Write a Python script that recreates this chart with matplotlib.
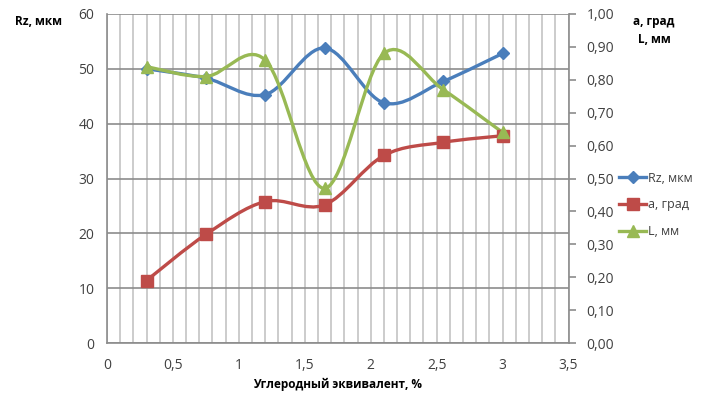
import numpy as np
from matplotlib import pyplot as plt
from matplotlib.path import Path
from matplotlib.patches import PathPatch
from matplotlib.lines import Line2D

plt.rcParams['font.family'] = ['Open Sans', 'DejaVu Sans']

x_vals = [0.3, 0.75, 1.2, 1.65, 2.1, 2.55, 3.0]
rz_vals = [50.0, 48.3, 45.3, 53.8, 43.8, 47.7, 52.8]
a_vals = [0.19, 0.33, 0.43, 0.42, 0.57, 0.61, 0.63]
l_vals = [0.84, 0.81, 0.86, 0.47, 0.88, 0.77, 0.64]

x_ticks = [0, 0.5, 1, 1.5, 2, 2.5, 3, 3.5]
left_ticks = [0, 10, 20, 30, 40, 50, 60]
right_ticks = [0.0, 0.1, 0.2, 0.3, 0.4, 0.5, 0.6, 0.7, 0.8, 0.9, 1.0]

c_rz = '#4a7ebb'
c_a = '#be4b48'
c_l = '#98b954'


def smooth_path(xs, ys):
    # excel-like smoothed line: cubic bezier through the points
    pts = np.column_stack([xs, ys])
    n = len(pts)
    verts = [pts[0]]
    codes = [Path.MOVETO]
    for i in range(n - 1):
        p0 = pts[max(i - 1, 0)]
        p1 = pts[i]
        p2 = pts[i + 1]
        p3 = pts[min(i + 2, n - 1)]
        c1 = p1 + (p2 - p0) / 6.0
        c2 = p2 - (p3 - p1) / 6.0
        verts += [c1, c2, p2]
        codes += [Path.CURVE4] * 3
    return Path(verts, codes)


fig = plt.figure(figsize=(7.01, 3.94), dpi=100)
ax = fig.add_axes([0.1526, 0.1294, 0.6584, 0.8351])
ax2 = ax.twinx()

ax.set_xlim(0, 3.5)
ax.set_ylim(0, 60)
ax2.set_ylim(0, 1)

ax.set_xticks(x_ticks)
ax.set_xticklabels([('%g' % t).replace('.', ',') for t in x_ticks])
ax.set_xticks(np.arange(0, 3.51, 0.1), minor=True)
ax.set_yticks(left_ticks)
ax2.set_yticks(right_ticks)
ax2.set_yticklabels([('%.2f' % t).replace('.', ',') for t in right_ticks])

ax.grid(True, which='both', axis='x', color='#c4c4c4', lw=1.2)
ax.grid(True, which='major', axis='y', color='#8c8c8c', lw=1.2)
ax.set_axisbelow(True)

for a in (ax, ax2):
    for s in a.spines.values():
        s.set_visible(False)
ax.spines['left'].set_visible(True)
ax.spines['bottom'].set_visible(True)
ax2.spines['right'].set_visible(True)
for s in (ax.spines['left'], ax.spines['bottom'], ax2.spines['right']):
    s.set_color('#8c8c8c')
    s.set_linewidth(1.2)

ax.tick_params(axis='both', which='both', length=0, labelsize=10, colors='#404040', pad=9)
ax.tick_params(axis='x', pad=11)
ax2.tick_params(axis='y', length=5, width=1.2, color='#8c8c8c', labelsize=10,
                labelcolor='#404040', pad=8)

lw = 2.4
ax.add_patch(PathPatch(smooth_path(x_vals, rz_vals), fc='none', ec=c_rz, lw=lw, zorder=3))
ax.plot(x_vals, rz_vals, ls='none', marker='D', ms=6, color=c_rz, zorder=4)
ax2.add_patch(PathPatch(smooth_path(x_vals, a_vals), fc='none', ec=c_a, lw=lw, zorder=3))
ax2.plot(x_vals, a_vals, ls='none', marker='s', ms=9, color=c_a, zorder=4)
ax2.add_patch(PathPatch(smooth_path(x_vals, l_vals), fc='none', ec=c_l, lw=lw, zorder=3))
ax2.plot(x_vals, l_vals, ls='none', marker='^', ms=9, color=c_l, zorder=4)

ax.set_xlabel('Углеродный эквивалент, %', fontsize=8.5, fontweight='bold', labelpad=3)
fig.text(0.055, 0.945, 'Rz, мкм', fontsize=8.5, fontweight='bold', ha='center', va='center')
fig.text(0.933, 0.945, 'a, град', fontsize=8.5, fontweight='bold', ha='center', va='center')
fig.text(0.933, 0.900, 'L, мм', fontsize=8.5, fontweight='bold', ha='center', va='center')

handles = [
    Line2D([], [], color=c_rz, lw=lw, marker='D', ms=6),
    Line2D([], [], color=c_a, lw=lw, marker='s', ms=9),
    Line2D([], [], color=c_l, lw=lw, marker='^', ms=9),
]
fig.legend(handles, ['Rz, мкм', 'a, град', 'L, мм'], loc='center left',
           bbox_to_anchor=(0.874, 0.48), frameon=False, fontsize=9,
           handlelength=2.2, handletextpad=0.15, labelspacing=1.1, borderpad=0,
           labelcolor='#404040')

fig.savefig('out.png', dpi=100)
